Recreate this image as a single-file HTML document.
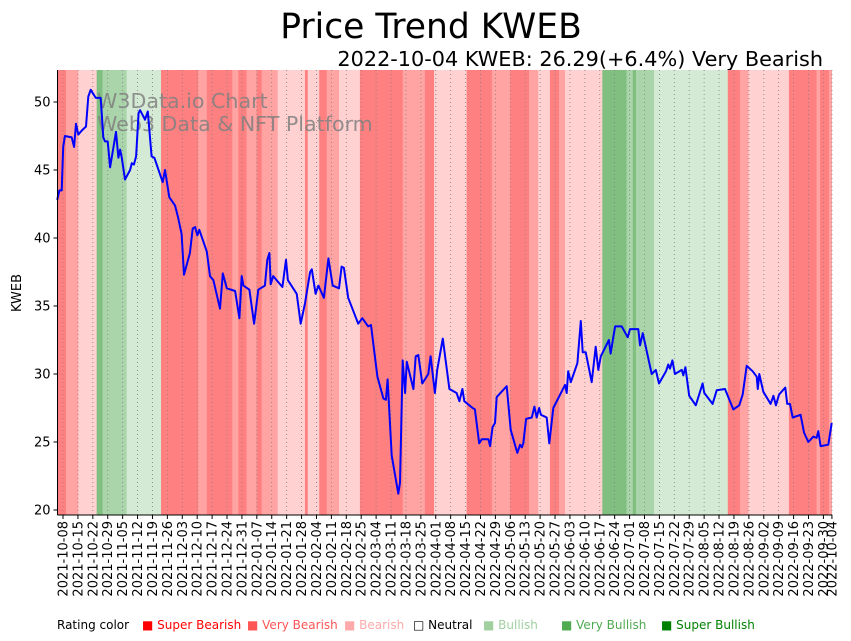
<!DOCTYPE html>
<html><head><meta charset="utf-8"><style>
body{margin:0;background:#fff;font-family:"DejaVu Sans","Liberation Sans",sans-serif;}
svg{display:block}
</style></head><body>
<svg id="chart" width="851" height="641" xmlns="http://www.w3.org/2000/svg" font-family="DejaVu Sans, Liberation Sans, sans-serif">
<text x="431" y="38" font-size="34.5" text-anchor="middle" fill="#000">Price Trend KWEB</text>
<text x="823" y="66" font-size="20.8" text-anchor="end" fill="#000">2022-10-04 KWEB: 26.29(+6.4%) Very Bearish</text>
<g id="bands"></g>
<g id="grid"></g>
<text x="97" y="108" font-size="20.6" fill="#808080" fill-opacity="0.85">W3Data.io Chart</text>
<text x="97" y="131" font-size="20.6" fill="#808080" fill-opacity="0.85">Web3 Data &amp; NFT Platform</text>
<path id="priceLine" fill="none" stroke="#0000ff" stroke-width="2" stroke-linejoin="round"/>
<g id="axes"></g>
<text transform="translate(21,293) rotate(-90)" font-size="13" text-anchor="middle">KWEB</text>
<g font-size="12">
<text x="57" y="629">Rating color</text>
<text x="142" y="629" fill="#ff0000">■ Super Bearish</text>
<text x="247" y="629" fill="#ff5555">■ Very Bearish</text>
<text x="344" y="629" fill="#ffaaaa">■ Bearish</text>
<text x="413" y="629" fill="#000">□ Neutral</text>
<text x="483" y="629" fill="#a0d0a0">■ Bullish</text>
<text x="561" y="629" fill="#50aa50">■ Very Bullish</text>
<text x="661" y="629" fill="#008000">■ Super Bullish</text>
</g>
</svg>
<script>
// day offsets from 2021-10-08
const priceDays=[-2.7,-1.7,-0.6,0.1,0.9,4.1,5.2,6.1,7.2,8.8,10.8,11.9,13.0,14.2,15.4,17.7,18.9,19.7,21.0,22.1,24.9,26.0,26.8,27.6,29.1,31.5,32.3,33.3,34.3,35.5,36.2,38.5,39.8,41.6,42.9,46.8,47.9,49.9,52.6,53.9,55.7,56.8,59.6,60.9,62.0,63.1,64.0,67.5,69.0,70.6,73.7,75.0,76.9,80.8,82.8,83.9,84.7,87.5,89.7,91.7,94.8,95.9,96.9,97.5,98.7,103.0,104.7,105.6,109.7,111.6,113.6,116.0,116.8,118.6,119.9,122.5,124.6,126.6,129.6,130.8,131.9,133.9,138.6,140.5,143.3,144.6,147.6,150.4,151.6,152.4,154.3,157.4,158.2,159.5,160.6,161.4,164.5,165.6,166.8,168.7,171.5,172.6,174.6,175.7,178.3,179.8,181.4,184.8,186.1,187.5,188.4,192.3,193.4,195.4,196.6,199.7,200.5,201.7,202.8,203.6,208.3,210.2,213.3,214.6,215.4,216.1,217.4,220.1,221.3,222.4,223.5,224.4,227.1,228.3,230.2,235.7,236.5,237.2,238.4,241.5,243.1,244.0,245.4,248.2,250.1,251.3,252.5,256.3,257.1,259.2,262.3,265.1,266.2,270.1,270.9,272.2,276.4,278.3,279.8,283.1,284.2,285.0,286.1,287.3,290.5,291.2,292.2,294.0,297.1,300.3,301.1,305.0,306.9,310.8,314.7,317.5,319.1,321.0,323.8,325.7,326.2,326.9,328.8,332.2,333.5,334.7,336.2,339.1,340.0,341.3,342.6,346.3,347.9,349.9,352.3,353.8,354.6,355.7,359.3,360.9];
const priceValues=[42.8,43.5,43.5,46.7,47.5,47.4,46.7,48.4,47.6,47.9,48.2,50.4,50.9,50.6,50.3,50.3,47.4,47.1,47.1,45.2,47.8,45.9,46.5,45.9,44.3,45.0,45.5,45.4,46.0,49.2,49.4,48.7,49.3,46.0,45.9,44.1,45.0,43.0,42.4,41.6,40.3,37.3,38.9,40.7,40.8,40.2,40.6,39.0,37.2,36.9,34.8,37.4,36.3,36.1,34.1,37.2,36.5,36.2,33.7,36.2,36.5,38.4,38.9,36.6,37.2,36.4,38.4,36.9,35.9,33.7,35.2,37.5,37.7,35.9,36.5,35.6,38.5,36.5,36.3,37.9,37.8,35.6,33.7,34.1,33.5,33.6,29.8,28.2,28.1,29.6,24.0,21.2,22.0,31.0,28.6,30.9,28.9,31.3,31.4,29.3,30.0,31.3,28.6,30.3,32.6,30.8,28.9,28.6,28.0,28.9,28.0,27.5,27.4,24.9,25.2,25.2,24.7,26.1,26.4,28.3,29.1,25.9,24.2,24.8,24.6,24.9,26.7,26.8,27.6,26.8,27.5,27.0,26.8,24.9,27.5,29.2,28.6,30.2,29.4,30.8,33.9,31.6,31.6,29.4,32.0,30.3,31.3,32.5,31.5,33.5,33.5,32.7,33.3,33.3,32.1,33.0,30.0,30.3,29.3,30.2,30.7,30.4,31.0,30.0,30.3,29.9,30.5,28.4,27.7,29.3,28.6,27.8,28.8,28.9,27.4,27.7,28.5,30.6,30.2,29.8,28.9,30.0,28.7,27.8,28.4,27.7,28.5,29.0,27.8,27.8,26.8,27.0,25.7,25.0,25.4,25.3,25.8,24.7,24.8,26.4];
const bandStarts=[-2.5,1.4,7.2,15.8,18.6,29.9,46.0,63.5,67.5,79.5,82.3,86.2,90.9,93.3,100.8,113.6,114.9,120.3,123.8,129.6,139.4,159.5,169.9,174.2,189.5,201.3,209.9,218.8,223.1,228.6,232.9,235.7,253.2,264.6,267.5,269.0,277.5,312.1,317.8,321.8,340.8,353.8,355.4,359.6];
const bandRatings=["SB","VB","B","SBu","VBu","Bu","SB","VB","SB","VB","SB","VB","SB","VB","B","SB","B","SB","VB","B","SB","VB","SB","B","SB","VB","SB","VB","B","SB","VB","B","SBu","VBu","SBu","VBu","Bu","SB","VB","B","SB","VB","SB","VB"];
const bandEnd=360.9;
const yTicks=[20,25,30,35,40,45,50];
const tickLabels=["2021-10-08","2021-10-15","2021-10-22","2021-10-29","2021-11-05","2021-11-12","2021-11-19","2021-11-26","2021-12-03","2021-12-10","2021-12-17","2021-12-24","2021-12-31","2022-01-07","2022-01-14","2022-01-21","2022-01-28","2022-02-04","2022-02-11","2022-02-18","2022-02-25","2022-03-04","2022-03-11","2022-03-18","2022-03-25","2022-04-01","2022-04-08","2022-04-15","2022-04-22","2022-04-29","2022-05-06","2022-05-13","2022-05-20","2022-05-27","2022-06-03","2022-06-10","2022-06-17","2022-06-24","2022-07-01","2022-07-08","2022-07-15","2022-07-22","2022-07-29","2022-08-05","2022-08-12","2022-08-19","2022-08-26","2022-09-02","2022-09-09","2022-09-16","2022-09-23","2022-09-30","2022-10-04"];
const tickDays=[0,7,14,21,28,35,42,49,56,63,70,77,84,91,98,105,112,119,126,133,140,147,154,161,168,175,182,189,196,203,210,217,224,231,238,245,252,259,266,273,280,287,294,301,308,315,322,329,336,343,350,357,361];

const colors={SB:"#ff8080",VB:"#ffa3a3",B:"#ffd1d1",SBu:"#80bf80",VBu:"#aad5aa",Bu:"#d4ead4"};
const X=d=>63+2.13*d;
const Y=v=>510-(v-20)*13.6;
const TOP=70,BOT=515,LEFT=57.5;
const NS="http://www.w3.org/2000/svg";
function mk(t,a,p){const e=document.createElementNS(NS,t);for(const k in a)e.setAttribute(k,a[k]);p.appendChild(e);return e;}

const bands=document.getElementById('bands');
bandStarts.forEach((s,i)=>{
  const e=i+1<bandStarts.length?bandStarts[i+1]:bandEnd;
  const r=mk('rect',{x:X(s),y:TOP,width:X(e)-X(s)+0.3,height:BOT-TOP,fill:colors[bandRatings[i]]},bands);
  
  
});
const grid=document.getElementById('grid');
const axes=document.getElementById('axes');
tickDays.forEach((d,i)=>{
  const x=X(d);
  const g=mk('line',{x1:x,x2:x,y1:TOP,y2:BOT,stroke:'#808080','stroke-width':0.8,'stroke-dasharray':'1,3'},grid);
  
  
  const t=mk('line',{x1:x,x2:x,y1:BOT,y2:BOT+4,stroke:'#000','stroke-width':1},axes);
  
  
  const l=mk('text',{transform:`translate(${x+4.5},${BOT+6}) rotate(-90)`,'font-size':13,'text-anchor':'end'},axes);
  l.textContent=tickLabels[i];
  
  
});
yTicks.forEach(v=>{
  const y=Y(v);
  const t=mk('line',{x1:LEFT-4,x2:LEFT,y1:y,y2:y,stroke:'#000','stroke-width':1},axes);
  
  
  const l=mk('text',{x:LEFT-7,y:y+4.5,'font-size':13,'text-anchor':'end'},axes);
  l.textContent=v;
  
  
});
const sp1=mk('line',{x1:LEFT,x2:LEFT,y1:TOP,y2:BOT,stroke:'#000','stroke-width':1},axes);


const sp2=mk('line',{x1:LEFT,x2:832,y1:BOT,y2:BOT,stroke:'#000','stroke-width':1},axes);



document.getElementById('priceLine').setAttribute('d',priceDays.map((d,i)=>(i?'L':'M')+X(d).toFixed(1)+','+Y(priceValues[i]).toFixed(1)).join(''));
</script>
</body></html>
